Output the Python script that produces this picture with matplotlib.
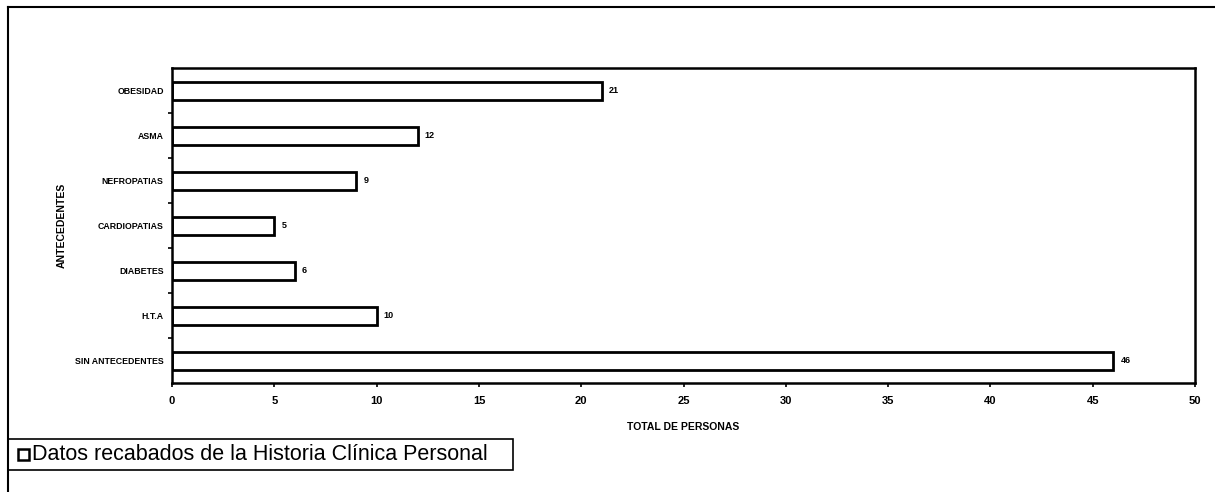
import matplotlib.pyplot as plt
from matplotlib.lines import Line2D
from matplotlib.patches import Rectangle

plt.rcParams['font.family'] = ['Liberation Sans', 'DejaVu Sans']

# antecedentes personales (de abajo hacia arriba)
categorias = ['SIN ANTECEDENTES', 'H.T.A', 'DIABETES', 'CARDIOPATIAS',
              'NEFROPATIAS', 'ASMA', 'OBESIDAD']
personas = [46, 10, 6, 5, 9, 12, 21]
x_ticks = [0, 5, 10, 15, 20, 25, 30, 35, 40, 45, 50]
leyenda = 'Datos recabados de la Historia Clínica Personal'

fig = plt.figure(figsize=(12.15, 4.92), dpi=100)
ax = fig.add_axes([0.1416, 0.2215, 0.842, 0.6402])

pos = list(range(len(categorias)))
barras = ax.barh(pos, personas, height=0.4, color='white',
                 edgecolor='black', linewidth=2)

for b, v in zip(barras, personas):
    ax.text(b.get_width() + 0.35, b.get_y() + b.get_height() / 2, str(v),
            va='center', ha='left', fontsize=6.5, fontweight='bold')

ax.set_xlim(0, 50)
ax.set_ylim(-0.5, len(categorias) - 0.5)
ax.set_xticks(x_ticks)
ax.set_xticklabels([str(t) for t in x_ticks], fontsize=8, fontweight='bold')
ax.set_yticks(pos)
ax.set_yticklabels(categorias, fontsize=6.3, fontweight='bold')
ax.set_yticks([p + 0.5 for p in pos[:-1]], minor=True)
ax.tick_params(axis='y', which='major', length=0, pad=6)
ax.tick_params(axis='y', which='minor', length=3, width=1.2, direction='out')
ax.tick_params(axis='x', length=3, width=1.2, direction='out', pad=6)
for s in ax.spines.values():
    s.set_linewidth(1.8)

ax.set_xlabel('TOTAL DE PERSONAS', fontsize=7.5, fontweight='bold', labelpad=12)
ax.set_ylabel('ANTECEDENTES', fontsize=7.5, fontweight='bold', labelpad=6)

# marco exterior (arriba e izquierda)
fig.add_artist(Line2D([8 / 1215, 1.0], [1 - 7 / 492, 1 - 7 / 492],
                      transform=fig.transFigure, color='black', lw=1.5))
fig.add_artist(Line2D([8 / 1215, 8 / 1215], [0.0, 1 - 7 / 492],
                      transform=fig.transFigure, color='black', lw=1.5))

# recuadro de la leyenda
fig.add_artist(Rectangle((8 / 1215, 1 - 470 / 492), 505 / 1215, 31 / 492,
                         transform=fig.transFigure, fill=False,
                         edgecolor='black', lw=1.2))
fig.add_artist(Rectangle((18 / 1215, 1 - 460 / 492), 11 / 1215, 11 / 492,
                         transform=fig.transFigure, facecolor='white',
                         edgecolor='black', lw=1.8))
fig.text(32 / 1215, 1 - 455 / 492, leyenda, fontsize=15.5, va='center', ha='left')

fig.savefig('out.png', dpi=100)
